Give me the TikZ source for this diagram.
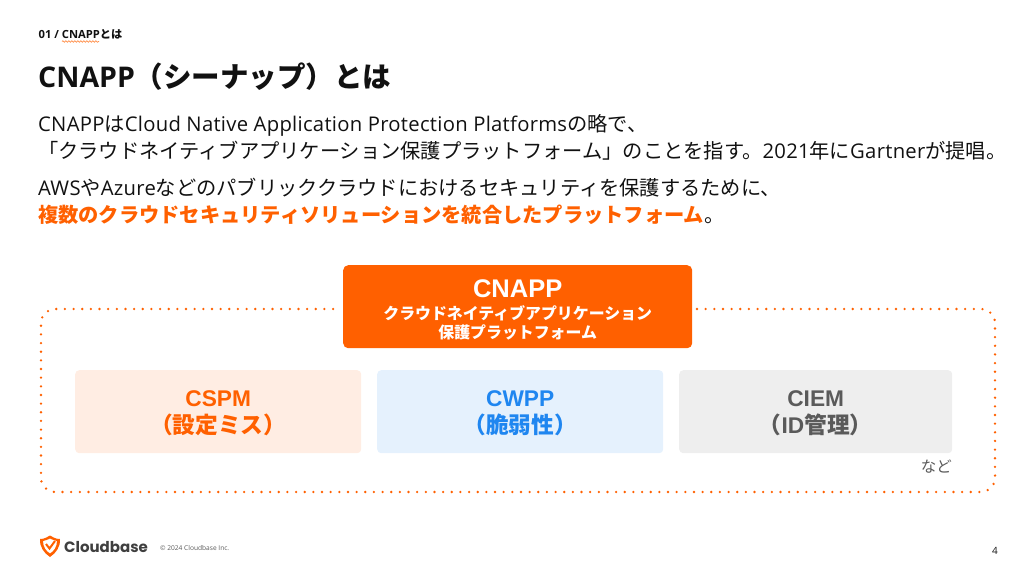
\documentclass[tikz,border=0pt]{standalone}
\usepackage{fontspec}
\usepackage{tikz}
\usetikzlibrary{decorations.pathmorphing}
\setmainfont{Open Sans}
\newfontfamily\jafont{Noto Sans CJK JP}
\newfontfamily\boxfont{Liberation Sans}
\newfontfamily\logofont{Poppins}
\newcommand{\ja}[1]{{\jafont #1}}
\newcommand{\fs}[1]{\fontsize{#1}{#1}\selectfont}
\newcommand{\bodyfont}{\fs{20.25}\addfontfeature{LetterSpace=1.4}}
\definecolor{brand}{HTML}{FF6000}
\definecolor{cspmfill}{HTML}{FFEDE3}
\definecolor{cwppfill}{HTML}{E5F1FD}
\definecolor{cwpptext}{HTML}{1F86F0}
\definecolor{ciemfill}{HTML}{EEEEEE}
\definecolor{ciemtext}{HTML}{5A5A5A}
\definecolor{ink}{HTML}{111111}
\begin{document}
\begin{tikzpicture}[x=1pt,y=-1pt,
	every node/.style={inner sep=0pt,text=ink},
	bodyline/.style={anchor=base west,font=\bodyfont},
	areabox/.style={rounded corners=4pt,anchor=north west,minimum height=83pt,align=center,font=\boxfont\bfseries\fontsize{22.7}{27}\selectfont}]
	\useasboundingbox (0,0) rectangle (1035,581);
	\node[anchor=base west,font=\bfseries\fs{11.2}] (crumb) at (38.5,38) {01 / CNAPP\ja{とは}};
	\draw[brand!70,line width=0.7pt,decorate,decoration={snake,amplitude=0.8pt,segment length=3pt}] (62,41.5) -- (99,41.5);
	\node[anchor=base west,font=\bfseries\fs{28.5}] (title) at (38,87) {CNAPP\ja{（シーナップ）とは}};
	\node[bodyline] (lineA) at (38,131) {CNAPP\ja{は}Cloud Native Application Protection Platforms\ja{の略で、}};
	\node[bodyline] (lineB) at (38,158) {\ja{「クラウドネイティブアプリケーション保護プラットフォーム」のことを指す。}2021\ja{年に}Gartner\ja{が提唱。}};
	\node[bodyline] (lineC) at (38,195) {AWS\ja{や}Azure\ja{などのパブリッククラウドにおけるセキュリティを保護するために、}};
	\node[bodyline] (lineD) at (38,222) {\textcolor{brand}{\bfseries\ja{複数のクラウドセキュリティソリューションを統合したプラットフォーム}}\ja{。}};
	\coordinate (frameR) at (697,309);
	\coordinate (frameL) at (338,309);
	\draw[brand,line width=2.6pt,line cap=round,dash pattern=on 0pt off 8.65pt,rounded corners=14pt] (frameR) -- (995,309) -- (995,492) -- (41,492) -- (41,309) -- (frameL);
	\node[fill=brand,rounded corners=5pt,anchor=north west,minimum width=349pt,minimum height=83pt,align=center,text=white,font=\boxfont\bfseries\fontsize{15.9}{19.5}\selectfont] (cnapp) at (343,265) {\rule{0pt}{22.5pt}\raisebox{-2pt}{\fontsize{25.5}{27}\selectfont CNAPP}\\[4pt]\ja{クラウドネイティブアプリケーション}\\\ja{保護プラットフォーム}};
	\node[areabox,fill=cspmfill,text=brand,minimum width=286pt] (cspm) at (75,370) {\rule{0pt}{16.5pt}\raisebox{-2pt}{CSPM}\\[2pt]\ja{（設定ミス）}};
	\node[areabox,fill=cwppfill,text=cwpptext,minimum width=286pt] (cwpp) at (377,370) {\rule{0pt}{16.5pt}\raisebox{-2pt}{CWPP}\\[2pt]\ja{（脆弱性）}};
	\node[areabox,fill=ciemfill,text=ciemtext,minimum width=273pt] (ciem) at (679,370) {\rule{0pt}{16.5pt}\raisebox{-2pt}{CIEM}\\[2pt]\ja{（}ID\ja{管理）}};
	\node[anchor=base east,text=ciemtext,font=\fs{15.5}] (etc) at (952,472) {\ja{など}};
	\fill[brand,even odd rule] (40,539) .. controls (45,539) and (47,537) .. (50,535.5) .. controls (53,537) and (55,539) .. (60,539) .. controls (60.5,547) and (56,553) .. (50,557) .. controls (44,553) and (39.5,547) .. (40,539) -- cycle
		(43,541) .. controls (43,547) and (46,551) .. (50,553.5) .. controls (54,551) and (57,547) .. (57,541) .. controls (54.5,540.5) and (52,539.5) .. (50,538.5) .. controls (48,539.5) and (45.5,540.5) .. (43,541) -- cycle;
	\draw[brand,line width=2pt] (46,544) -- (49.5,548.5) -- (55,541);
	\node[anchor=base west,text=ciemtext!70!black,font=\logofont\bfseries\fs{15}] (logo) at (64,552) {Cloudbase};
	\node[anchor=base west,text=ciemtext,font=\fs{6.6}] (copy) at (160,550) {© 2024 Cloudbase Inc.};
	\node[anchor=base east,font=\fs{10}] (page) at (998,554) {4};
\end{tikzpicture}
\end{document}
